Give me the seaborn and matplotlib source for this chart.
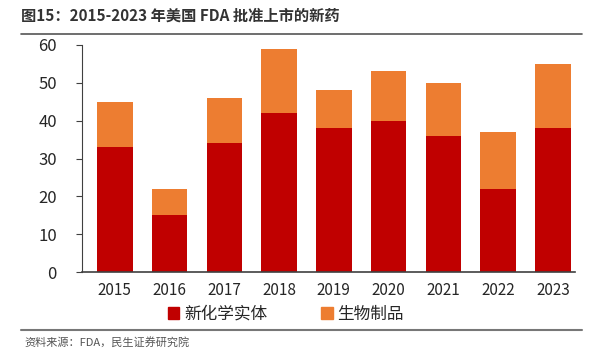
import matplotlib
matplotlib.use("Agg")
import matplotlib.pyplot as plt
import seaborn as sns
import pandas as pd
from matplotlib.patches import Patch
from matplotlib.lines import Line2D

years = ["2015", "2016", "2017", "2018", "2019", "2020", "2021", "2022", "2023"]
nme = [33, 15, 34, 42, 38, 40, 36, 22, 38]
biologics = [12, 7, 12, 17, 10, 13, 14, 15, 17]

df = pd.DataFrame({"year": years, "nme": nme, "bio": biologics})
df["total"] = df["nme"] + df["bio"]

sns.set_style("ticks")
plt.rcParams["font.family"] = ["Noto Sans CJK SC", "DejaVu Sans"]

red = "#C00000"
orange = "#ED7D31"

fig = plt.figure(figsize=(6.02, 3.57), dpi=100)
ax = fig.add_axes([0.136, 0.238, 0.819, 0.636])

# stacked: total first (orange), then NME on top of it (red)
sns.barplot(data=df, x="year", y="total", color=orange, width=0.65, saturation=1,
            linewidth=0, ax=ax)
sns.barplot(data=df, x="year", y="nme", color=red, width=0.65, saturation=1,
            linewidth=0, ax=ax)

ax.set_ylim(0, 60)
ax.set_yticks(range(0, 61, 10))
ax.set_xlabel("")
ax.set_ylabel("")
ax.set_xlim(-0.6, 8.4)
for s in ["top", "right"]:
    ax.spines[s].set_visible(False)
ax.spines["left"].set_color("#404040")
ax.spines["left"].set_linewidth(0.8)
ax.spines["bottom"].set_color("#404040")
ax.spines["bottom"].set_linewidth(1.2)
ax.tick_params(axis="y", labelsize=12, length=4, color="#404040", pad=14)
ax.tick_params(axis="x", labelsize=11, length=0, pad=7)

handles = [Patch(color=red, label="新化学实体"), Patch(color=orange, label="生物制品")]
fig.legend(handles=handles, loc="center", bbox_to_anchor=(0.475, 0.12), ncol=2,
           frameon=False, fontsize=12, handlelength=0.7, handleheight=0.7,
           handletextpad=0.3, columnspacing=3.2, borderpad=0.1)

fig.text(0.035, 0.955, "图15：2015-2023 年美国 FDA 批准上市的新药", fontsize=11,
         fontweight="bold", color="#333333", va="center")
fig.add_artist(Line2D([0.035, 0.967], [0.905, 0.905], color="#555555", lw=1.2))
fig.add_artist(Line2D([0.035, 0.967], [0.075, 0.075], color="#777777", lw=1.5))
fig.text(0.04, 0.04, "资料来源：FDA，民生证券研究院", fontsize=8, color="#555555", va="center")

fig.savefig("out.png", dpi=100)
